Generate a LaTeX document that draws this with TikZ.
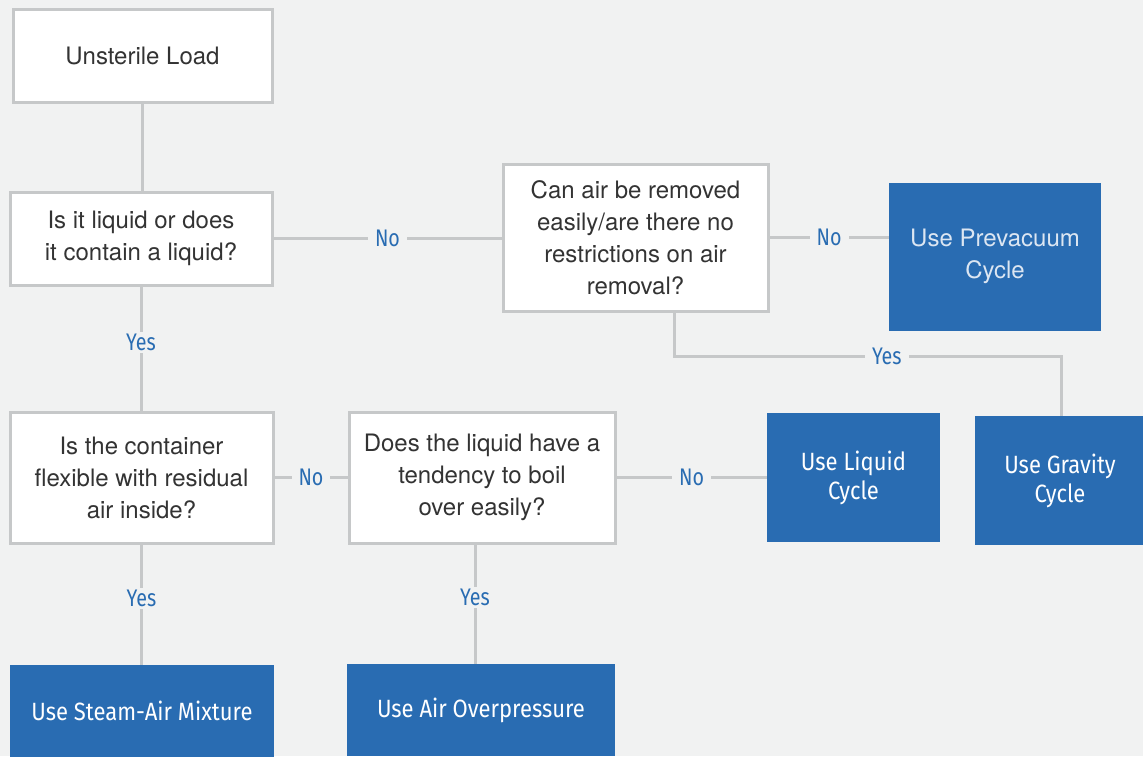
\documentclass[tikz,border=0pt]{standalone}
\usepackage{fontspec}
\setmainfont{TeX Gyre Heros}
\newfontfamily\condfont[FakeStretch=0.82]{Fira Sans}
\newfontfamily\widecond[FakeStretch=0.88]{Fira Sans}
\usepackage{tikz}
\definecolor{bg}{HTML}{F1F2F2}
\definecolor{rim}{HTML}{C6C8C9}
\definecolor{blu}{HTML}{296CB2}
\definecolor{ink}{HTML}{333333}
\definecolor{pale}{HTML}{DCE6F2}

\begin{document}
\begin{tikzpicture}[x=1pt,y=-1pt,
  ask/.style={draw=rim,line width=3pt,fill=white,align=center,text=ink,
    font=\fontsize{24}{32}\selectfont,inner sep=0pt},
  use/.style={fill=blu,align=center,text=white,
    font=\widecond\fontsize{25}{29}\selectfont,inner sep=0pt},
  link/.style={draw=rim,line width=3pt},
  ans/.style={fill=bg,text=blu,font=\condfont\fontsize{24}{24}\selectfont,
    inner xsep=7pt,inner ysep=2pt}]
\useasboundingbox[fill=bg] (0,0) rectangle (1143,756);

\node[ask,minimum width=259pt,minimum height=93pt] (load) at (142.5,55.5) {Unsterile Load};
\node[ask,minimum width=262pt,minimum height=93pt] (q1) at (141,238.5) {Is it liquid or does\\it contain a liquid?};
\node[ask,minimum width=265pt,minimum height=147pt] (q2) at (635.5,237.5) {Can air be removed\\easily/are there no\\restrictions on air\\removal?};
\node[use,minimum width=212pt,minimum height=148pt,text=pale,
  font=\fontsize{24}{32}\selectfont] (prevac) at (995,256.5) {Use Prevacuum\\Cycle};
\node[ask,minimum width=263pt,minimum height=131pt] (q3) at (141.5,477.5) {Is the container\\flexible with residual\\air inside?};
\node[ask,minimum width=266pt,minimum height=131pt] (q4) at (482,477.5) {Does the liquid have a\\tendency to boil\\over easily?};
\node[use,minimum width=173pt,minimum height=129pt] (liquid) at (853.5,477.5) {Use Liquid\\Cycle};
\node[use,minimum width=170pt,minimum height=129pt] (gravity) at (1060,480.5) {Use Gravity\\Cycle};
\node[use,minimum width=264pt,minimum height=92pt] (steam) at (142,711) {Use Steam-Air Mixture};
\node[use,minimum width=268pt,minimum height=92pt] (over) at (481,710) {Use Air Overpressure};

\coordinate (q2foot) at (674,311);
\coordinate (bendA) at (674,356);
\coordinate (bendB) at (1061,356);
\coordinate (q4foot) at (475,543);

\path[link]
(load.south) edge (load.south |- q1.north)
(q1.east) edge node[ans] {No} (q2.west |- q1.east)
(q2.east) edge node[ans] {No} (prevac.west |- q2.east)
(q1.south) edge node[ans,pos=0.45] {Yes} (q1.south |- q3.north)
(q3.east) edge node[ans] {No} (q4.west |- q3.east)
(q4.east) edge node[ans] {No} (liquid.west |- q4.east)
(q3.south) edge node[ans,pos=0.45] {Yes} (q3.south |- steam.north)
(q4foot) edge node[ans,pos=0.45] {Yes} (q4foot |- over.north);

\draw[link,line join=miter] (q2foot) -- (bendA) -- node[ans,pos=0.55] {Yes} (bendB) -- (bendB |- gravity.north);
\end{tikzpicture}
\end{document}
